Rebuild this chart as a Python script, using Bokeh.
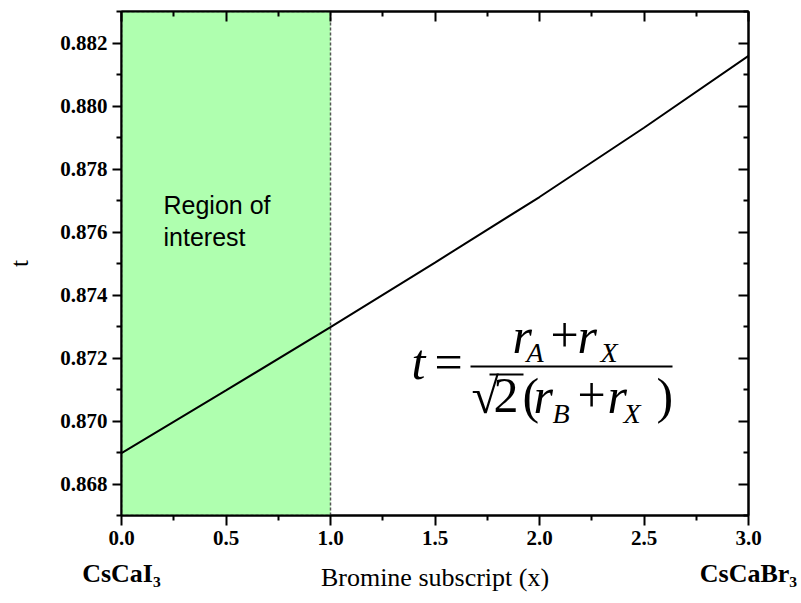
from bokeh.plotting import figure
from bokeh.models import (Range1d, LinearAxis, FixedTicker, PrintfTickFormatter,
                          CustomJSTickFormatter, Label, BoxAnnotation)
from bokeh.embed import file_html
from bokeh.resources import INLINE

# ---------------- data ----------------
bromine_x = [0.0, 0.5, 1.0, 1.5, 2.0, 2.5, 3.0]
tolerance_t = [0.86898, 0.87097, 0.87298, 0.87503, 0.87711, 0.87931, 0.88159]

region_x_start = [0.0]
region_x_end = [1.0]

x_min, x_max = 0.0, 3.0
y_min, y_max = 0.867, 0.883

x_ticks = [0.0, 0.5, 1.0, 1.5, 2.0, 2.5, 3.0]
y_ticks = [0.868, 0.870, 0.872, 0.874, 0.876, 0.878, 0.880, 0.882]
x_minor = [round(v + 0.25, 3) for v in x_ticks[:-1]]
y_minor = [round(v - 0.001, 4) for v in y_ticks] + [round(y_ticks[-1] + 0.001, 4)]

end_member_x = [0.0, 3.0]
end_members = ["CsCaI\u2083", "CsCaBr\u2083"]
x_title = "Bromine subscript (x)"
y_title = "t"

# ---------------- layout helpers (pixel -> data, for annotations) ----------------
W, H = 801, 603
FL, FR, FT, FB = 121, 748, 11, 515


def dx(px):
    return x_min + (px - FL) * (x_max - x_min) / (FR - FL)


def dy(py):
    return y_min + (FB - py) * (y_max - y_min) / (FB - FT)


p = figure(width=W, height=H,
           x_range=Range1d(x_min, x_max), y_range=Range1d(y_min, y_max),
           output_backend="svg", toolbar_location=None,
           min_border_left=FL, min_border_right=W - FR, min_border_top=FT,
           min_border_bottom=H - FB)
p.grid.visible = False
p.outline_line_color = "black"
p.outline_line_width = 2
p.background_fill_color = "white"
p.border_fill_color = "white"

SERIF = "Liberation Serif"
xt = FixedTicker(ticks=x_ticks, minor_ticks=x_minor)
yt = FixedTicker(ticks=y_ticks, minor_ticks=y_minor)

xa = p.xaxis[0]
ya = p.yaxis[0]
for ax in (xa, ya):
    ax.axis_line_width = 2
    ax.axis_line_color = "black"
    ax.major_tick_line_width = 2
    ax.minor_tick_line_width = 2
    ax.major_tick_line_color = "black"
    ax.minor_tick_line_color = "black"
    ax.major_tick_in = 0
    ax.minor_tick_in = 0
    ax.major_label_text_font = SERIF
    ax.major_label_text_font_style = "bold"
    ax.major_label_text_font_size = "21px"
    ax.major_label_text_color = "black"

xa.ticker = xt
xa.formatter = PrintfTickFormatter(format="%.1f")
xa.major_tick_out = 10
xa.minor_tick_out = 5
xa.major_label_standoff = 5

ya.ticker = yt
ya.formatter = PrintfTickFormatter(format="%.3f")
ya.major_tick_out = 9
ya.minor_tick_out = 5
ya.major_label_standoff = 5
ya.axis_label = y_title
ya.axis_label_text_font = SERIF
ya.axis_label_text_font_style = "normal"
ya.axis_label_text_font_size = "25px"
ya.axis_label_text_color = "black"
ya.axis_label_standoff = 24

blank = CustomJSTickFormatter(code="return ''")
ra = LinearAxis(ticker=yt, formatter=blank, major_tick_in=10, major_tick_out=0,
                minor_tick_in=5, minor_tick_out=0, axis_line_width=2,
                major_tick_line_width=2, minor_tick_line_width=2,
                major_label_standoff=0, major_label_text_font_size="1px")
ta = LinearAxis(ticker=xt, formatter=blank, major_tick_in=10, major_tick_out=0,
                minor_tick_in=5, minor_tick_out=0, axis_line_width=2,
                major_tick_line_width=2, minor_tick_line_width=2,
                major_label_standoff=0, major_label_text_font_size="1px")
p.add_layout(ra, "right")
p.add_layout(ta, "above")

# second bottom axis: end-member compounds + x title on the same row
names_fmt = CustomJSTickFormatter(
    args=dict(xs=end_member_x, names=end_members),
    code="""
    let best = 0, d = Infinity;
    for (let i = 0; i < xs.length; i++) {
        const e = Math.abs(xs[i] - tick);
        if (e < d) { d = e; best = i; }
    }
    return names[best];
    """)
ba = LinearAxis(ticker=FixedTicker(ticks=end_member_x, minor_ticks=[]),
                formatter=names_fmt,
                axis_line_color=None, major_tick_line_color=None,
                minor_tick_line_color=None, major_tick_in=0, major_tick_out=0,
                minor_tick_in=0, minor_tick_out=0,
                major_label_standoff=11, major_label_text_font=SERIF,
                major_label_text_font_style="bold", major_label_text_font_size="26px",
                major_label_text_color="black",
                axis_label=x_title, axis_label_text_font=SERIF,
                axis_label_text_font_style="normal", axis_label_text_font_size="26px",
                axis_label_text_color="black", axis_label_standoff=-28)
p.add_layout(ba, "below")

# region of interest
p.quad(left=region_x_start, right=region_x_end, bottom=[y_min], top=[y_max],
       fill_color="#AFFFAF", line_color="#555555", line_width=1.5, line_dash="3 2")

# data line
p.line(bromine_x, tolerance_t, line_color="black", line_width=2)

MID = 0.34  # baseline-to-middle offset (fraction of font size)


def lab(text, px, py, size, style="normal", font=SERIF):
    p.add_layout(Label(x=dx(px), y=dy(py - MID * size), text=text, text_font=font,
                       text_font_size=f"{size}px", text_font_style=style,
                       text_color="black", text_align="left",
                       text_baseline="middle"))


# region text
lab("Region of", 163, 213, 25, font="Liberation Sans")
lab("interest", 163, 245, 25, font="Liberation Sans")

# formula t = (rA + rX) / (sqrt2 (rB + rX))
F, S = 50, 28
lab("t", 411, 378, F, "italic")
lab("=", 434, 378, F)
lab("r", 512, 352, F, "italic")
lab("A", 526, 362, S, "italic")
lab("+", 550, 352, F)
lab("r", 577, 352, F, "italic")
lab("X", 600, 362, S, "italic")
p.add_layout(BoxAnnotation(left=dx(470), right=dx(672), bottom=dy(367), top=dy(365),
                           fill_color="black", fill_alpha=1, line_alpha=0))
lab("\u221a", 471, 412, F)
p.add_layout(BoxAnnotation(left=dx(489), right=dx(523), bottom=dy(375), top=dy(373),
                           fill_color="black", fill_alpha=1, line_alpha=0))
lab("2", 493, 412, F)
lab("(", 522, 412, F)
lab("r", 533, 412, F, "italic")
lab("B", 552, 423, S, "italic")
lab("+", 577, 412, F)
lab("r", 607, 412, F, "italic")
lab("X", 623, 423, S, "italic")
lab(")", 656, 412, F)

open("out.html", "w").write(file_html(p, INLINE))
